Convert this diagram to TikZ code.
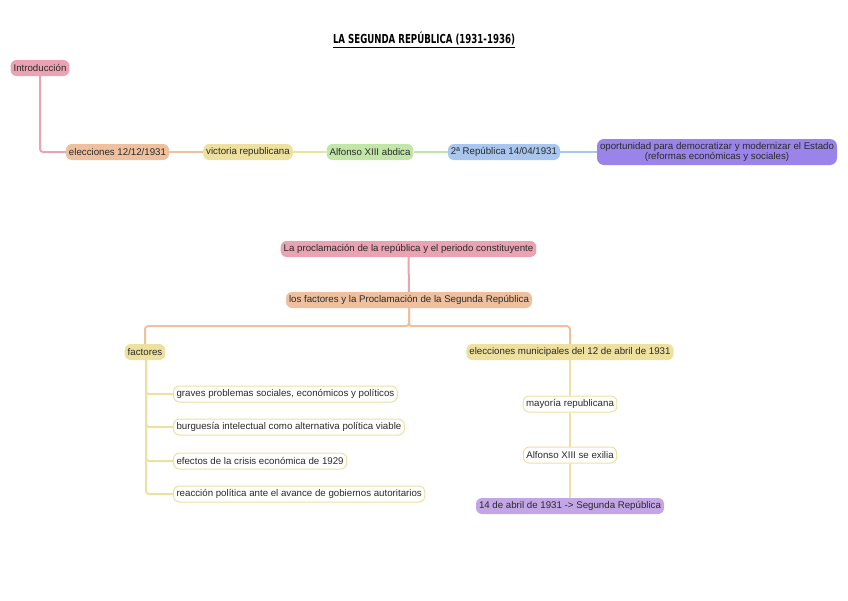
\documentclass[tikz,border=0pt]{standalone}
\usepackage{fontspec}
\setmainfont{Liberation Sans}
\newfontfamily\titlefont{DejaVu Sans Bold}
\usetikzlibrary{positioning}
\definecolor{Rosa}{HTML}{E9A3B2}
\definecolor{Melon}{HTML}{EEC09E}
\definecolor{Trigo}{HTML}{EEE09E}
\definecolor{Hoja}{HTML}{C2E6A8}
\definecolor{Cielo}{HTML}{A9C6EE}
\definecolor{Violeta}{HTML}{9A84E9}
\definecolor{Lila}{HTML}{C3A6E6}
\definecolor{Tinta}{HTML}{2A2A2A}
\tikzset{
  tema/.style={
    rounded corners=6pt, fill=#1, draw=none, text=Tinta,
    minimum height=16pt, inner xsep=3pt, inner ysep=1pt, align=center,
    font=\fontsize{9.7}{11}\selectfont
  },
  hoja/.style={
    rounded corners=6pt, fill=white, draw=Trigo, line width=1pt, text=Tinta,
    minimum height=16pt, inner xsep=3pt, inner ysep=1pt,
    font=\fontsize{9.7}{11}\selectfont
  },
  rama/.style={draw=#1, line width=2pt, rounded corners=3pt}
}
\begin{document}
\begin{tikzpicture}[x=1pt,y=-1pt]
  \useasboundingbox (0,0) rectangle (848,600);
  % titulo
  \node[text=black] (titulo) at (424,39)
    {\resizebox{182pt}{11.5pt}{\titlefont LA SEGUNDA REPÚBLICA (1931-1936)}};
  \draw[line width=1pt] (333,47) -- (515,47);
  % introduccion
  \node[tema=Rosa] (intro) at (40,68) {Introducción};
  \node[tema=Melon] (elec) at (117.5,152) {elecciones 12/12/1931};
  \node[tema=Trigo] (victoria) at (248,152) {victoria republicana};
  \node[tema=Hoja] (abdica) at (370,152) {Alfonso XIII abdica};
  \node[tema=Cielo] (segunda) at (504,152) {2ª República 14/04/1931};
  \node[tema=Violeta, rounded corners=7pt, minimum height=26pt, inner ysep=2pt,
    font=\fontsize{9.7}{10.5}\selectfont] (oportunidad) at (717,152)
    {oportunidad para democratizar y modernizar el Estado\\(reformas económicas y sociales)};
  \draw[rama=Rosa] (intro.south) |- (elec.west);
  \draw[rama=Melon] (elec) -- (victoria);
  \draw[rama=Trigo] (victoria) -- (abdica);
  \draw[rama=Hoja] (abdica) -- (segunda);
  \draw[rama=Cielo] (segunda) -- (oportunidad);
  % proclamacion
  \node[tema=Rosa] (procla) at (408.5,249) {La proclamación de la república y el periodo constituyente};
  \node[tema=Melon] (lfact) at (409,300) {los factores y la Proclamación de la Segunda República};
  \node[tema=Trigo] (fact) at (145,352) {factores};
  \node[tema=Trigo] (munic) at (570,352) {elecciones municipales del 12 de abril de 1931};
  \draw[rama=Rosa] (procla) -- (lfact);
  \draw[rama=Melon] (lfact.south) -- ++(0,18) -| (fact.north);
  \draw[rama=Melon] (lfact.south) -- ++(0,18) -| (munic.north);
  % factores
  \node[hoja, anchor=west] (graves) at (173,394) {graves problemas sociales, económicos y políticos};
  \node[hoja, anchor=west] (burgue) at (173,427) {burguesía intelectual como alternativa política viable};
  \node[hoja, anchor=west] (crisis) at (173,461) {efectos de la crisis económica de 1929};
  \node[hoja, anchor=west] (reaccion) at (173,494) {reacción política ante el avance de gobiernos autoritarios};
  \foreach \hijo in {graves,burgue,crisis,reaccion}
    \draw[rama=Trigo] ([xshift=1pt]fact.south) |- (\hijo.west);
  % elecciones municipales
  \node[hoja] (mayoria) at (570,404) {mayoría republicana};
  \node[hoja] (exilia) at (570,455) {Alfonso XIII se exilia};
  \node[tema=Lila] (abril) at (570,506) {14 de abril de 1931 -> Segunda República};
  \draw[rama=Trigo] (munic) -- (mayoria);
  \draw[rama=Trigo] (mayoria) -- (exilia);
  \draw[rama=Trigo] (exilia) -- (abril);
\end{tikzpicture}
\end{document}
